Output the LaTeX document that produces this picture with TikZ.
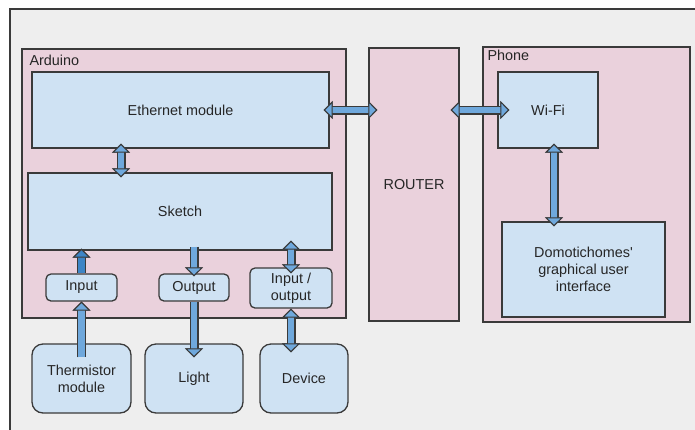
\documentclass[tikz,border=0pt]{standalone}
\usepackage{fontspec}
\setmainfont{Liberation Sans}
\usepackage{tikz}
\usetikzlibrary{arrows.meta}
\usetikzlibrary{positioning}

\definecolor{framegray}{HTML}{EEEEEE}
\definecolor{boxpink}{HTML}{EAD1DC}
\definecolor{boxblue}{HTML}{CFE2F3}
\definecolor{arrowblue}{HTML}{6FA8DC}
\definecolor{arrowdark}{HTML}{3D85C6}
\definecolor{edgegray}{HTML}{3A3A3A}

\begin{document}
\begin{tikzpicture}[x=1pt,y=-1pt,
	every node/.style={font=\fontsize{14.4}{16.7}\selectfont, text=black!85},
	part/.style={draw=edgegray, line width=1.3pt, fill=boxpink, inner sep=0pt},
	block/.style={draw=edgegray, line width=1.3pt, fill=boxblue, align=center, inner sep=0pt},
	pin/.style={block, rounded corners=5pt},
	thing/.style={block, rounded corners=11pt},
	fat/.style={line width=6.6pt, draw=arrowblue, #1,
		>={Triangle[length=9pt,width=18pt,line width=1pt 0 0,color=edgegray,fill=arrowblue]},
		preaction={draw=edgegray, line width=9pt, #1}},
	fatdark/.style={line width=6.6pt, draw=arrowdark, #1,
		>={Triangle[length=9pt,width=18pt,line width=1pt 0 0,color=edgegray,fill=arrowdark]},
		preaction={draw=edgegray, line width=9pt, #1}}]
	\useasboundingbox (0,0) rectangle (695,429);
	\fill[white] (0,0) rectangle (695,429);
	\begin{scope}
		\clip (0,0) rectangle (695,429);
		\fill[framegray] (10,9) rectangle (700,440);
		\draw[edgegray, line width=1.5pt] (10,440) -- (10,9) -- (700,9);
	\end{scope}
	
	\node[part, minimum width=324pt, minimum height=269pt] (arduino) at (184,183.5) {};
	\node[part, minimum width=90pt, minimum height=273pt] (router) at (414,184.5) {ROUTER};
	\node[part, minimum width=207pt, minimum height=275pt] (phone) at (586.5,184.5) {};
	\node[anchor=base west, inner sep=0pt] (arduinolabel) at ([xshift=8pt,yshift=-16.7pt]arduino.north west) {Arduino};
	\node[anchor=base west, inner sep=0pt] (phonelabel) at ([xshift=5pt,yshift=-14.5pt]phone.north west) {Phone};
	
	\node[block, minimum width=297pt, minimum height=76pt] (eth) at (180.5,110) {Ethernet module};
	\node[block, minimum width=304pt, minimum height=77pt] (sketch) at (180,211.5) {Sketch};
	\node[pin, minimum width=71pt, minimum height=27pt] (input) at (81.5,287.5) {Input};
	\node[pin, minimum width=70pt, minimum height=27pt] (output) at (194,287.5) {Output};
	\node[pin, minimum width=82pt, minimum height=40pt] (io) at (291,288) {Input /\\output};
	\node[thing, minimum width=99pt, minimum height=69pt] (therm) at (81.5,378.5) {Thermistor\\module};
	\node[thing, minimum width=98pt, minimum height=69pt] (light) at (194,378.5) {Light};
	\node[thing, minimum width=88pt, minimum height=69pt] (device) at (304,378.5) {Device};
	\node[block, minimum width=100pt, minimum height=76pt] (wifi) at (548,110) {Wi-Fi};
	\node[block, minimum width=163pt, minimum height=95pt] (gui) at (583.5,269.5) {Domotichomes\textquotesingle\\graphical user\\interface};
	
	% network side
	\draw[fat=<->, shorten <=-6pt, shorten >=-9pt] (eth.east) -- (eth.east -| router.west);
	\draw[fat=<->, shorten <=-9pt, shorten >=-12pt] (router.east |- wifi.west) -- (wifi.west);
	\draw[fat=<->, shorten <=-5pt, shorten >=-5pt] ([xshift=6pt]wifi.south) -- ([xshift=6pt]wifi.south |- gui.north);
	\draw[fat=<->, shorten <=-5pt, shorten >=-5pt] ([xshift=-59.5pt]eth.south) -- ([xshift=-59pt]sketch.north);
	
	% pins
	\draw[fat=->, shorten <=-14pt] (therm.north) -- (input.south);
	\draw[fatdark=->, shorten >=-2pt] (input.north) -- (input.north |- sketch.south);
	\draw[fat=->, shorten <=-4pt, shorten >=-3pt] (output.north |- sketch.south) -- (output.north);
	\draw[fat=->, shorten >=-14pt] (output.south) -- (light.north);
	\draw[fat=<->, shorten <=-10pt, shorten >=-6pt] (io.north |- sketch.south) -- (io.north);
	\draw[fat=<->, shorten >=-9pt] (io.south) -- (io.south |- device.north);
\end{tikzpicture}
\end{document}
